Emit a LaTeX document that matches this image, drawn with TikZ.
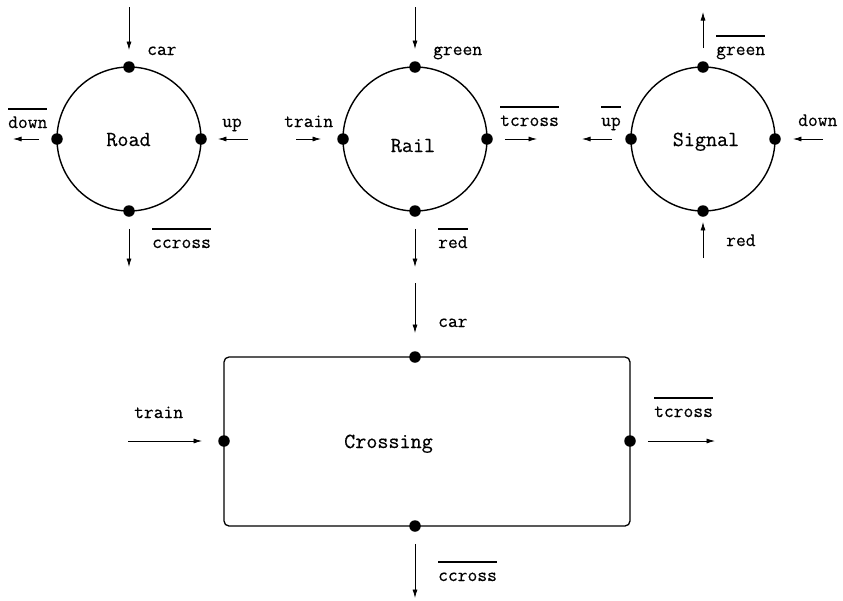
\documentclass[tikz,border=0pt]{standalone}
\usepackage{fontspec}
\setmonofont[FakeBold=0.45]{Latin Modern Mono}
\usetikzlibrary{arrows.meta}
% complemented (output) action: bar set a fixed height above the baseline
\newcommand\ovl[1]{\setbox0\hbox{#1}\rlap{\rule[18.5pt]{\wd0}{1.1pt}}\box0}
\begin{document}
\begin{tikzpicture}[
  x=1pt, y=-1pt,
  proc/.style={circle, draw, line width=1.4pt, minimum size=144pt, inner sep=0pt, outer sep=0pt},
  boxproc/.style={rectangle, draw, line width=1.3pt, rounded corners=5pt, minimum width=406pt, minimum height=169pt, inner sep=0pt, outer sep=0pt},
  port/.style={circle, fill, inner sep=0pt, minimum size=11.5pt},
  sig/.style={-{Latex[length=8.5pt,width=5pt]}, line width=0.8pt},
  lbl/.style={anchor=base west, inner sep=0pt, font=\fontsize{19}{22}\selectfont\ttfamily},
  procname/.style={anchor=base, inner sep=0pt, font=\fontsize{21.5}{25}\selectfont\ttfamily}
]
\useasboundingbox (0,0) rectangle (843,600);

% ---------- processes ----------
\node[proc] (road) at (129,139) {};
\node[proc] (rail) at (415,139) {};
\node[proc] (signal) at (703,139) {};
\node[boxproc] (cross) at (427,441.5) {};

\node[procname] (roadT) at (128.5,146) {Road};
\node[procname] (railT) at (413,152) {Rail};
\node[procname] (signalT) at (706,146) {Signal};
\node[procname] (crossT) at (388.5,448) {Crossing};

% ---------- ports ----------
\node[port] (rdN) at (road.north) {};
\node[port] (rdS) at (road.south) {};
\node[port] (rdW) at (road.west) {};
\node[port] (rdE) at (road.east) {};
\node[port] (rlN) at (rail.north) {};
\node[port] (rlS) at (rail.south) {};
\node[port] (rlW) at (rail.west) {};
\node[port] (rlE) at (rail.east) {};
\node[port] (sgN) at (signal.north) {};
\node[port] (sgS) at (signal.south) {};
\node[port] (sgW) at (signal.west) {};
\node[port] (sgE) at (signal.east) {};
\node[port] (csN) at (415,357) {};
\node[port] (csS) at (415,526) {};
\node[port] (csW) at (224,441) {};
\node[port] (csE) at (630,441) {};

% ---------- free ends of the channels ----------
\coordinate (rdNe) at (129,7);
\coordinate (rdWe) at (13,139);
\coordinate (rdEe) at (248,139);
\coordinate (rdSe) at (129,267);
\coordinate (rlNe) at (415,7);
\coordinate (rlWe) at (296,139);
\coordinate (rlEe) at (537,139);
\coordinate (rlSe) at (415,267);
\coordinate (sgNe) at (703,12);
\coordinate (sgWe) at (582,139);
\coordinate (sgEe) at (823,139);
\coordinate (sgSe) at (703,258);
\coordinate (csNe) at (415,283);
\coordinate (csWe) at (128,441);
\coordinate (csEe) at (715,441);
\coordinate (csSe) at (415,598);

% ---------- channels ----------
\draw[sig, shorten >=11pt] (rdNe) -- (rdN);
\draw[sig, shorten <=12pt] (rdW) -- (rdWe);
\draw[sig, shorten >=11pt] (rdEe) -- (rdE);
\draw[sig, shorten <=12pt] (rdS) -- (rdSe);

\draw[sig, shorten >=12pt] (rlNe) -- (rlN);
\draw[sig, shorten >=16pt] (rlWe) -- (rlW);
\draw[sig, shorten <=12pt] (rlE) -- (rlEe);
\draw[sig, shorten <=12pt] (rlS) -- (rlSe);

\draw[sig, shorten <=13pt] (sgN) -- (sgNe);
\draw[sig, shorten <=13pt] (sgW) -- (sgWe);
\draw[sig, shorten >=12pt] (sgEe) -- (sgE);
\draw[sig, shorten >=5pt] (sgSe) -- (sgS);

\draw[sig, shorten >=18pt] (csNe) -- (csN);
\draw[sig, shorten >=16pt] (csWe) -- (csW);
\draw[sig, shorten <=12pt] (csE) -- (csEe);
\draw[sig, shorten <=12pt] (csS) -- (csSe);

% ---------- action labels ----------
\node[lbl] (lRdN) at (147,55) {car};
\node[lbl] (lRdW) at (8,128) {\ovl{down}};
\node[lbl] (lRdE) at (222,127) {up};
\node[lbl] (lRdS) at (152,248) {\ovl{ccross}};

\node[lbl] (lRlN) at (433,55) {green};
\node[lbl] (lRlW) at (284,127) {train};
\node[lbl] (lRlE) at (500,126) {\ovl{tcross}};
\node[lbl] (lRlS) at (438,248) {\ovl{red}};

\node[lbl] (lSgN) at (716,55) {\ovl{green}};
\node[lbl] (lSgW) at (601,126) {\ovl{up}};
\node[lbl] (lSgE) at (798,126) {down};
\node[lbl] (lSgS) at (726,246) {red};

\node[lbl] (lCsN) at (438,327) {car};
\node[lbl] (lCsW) at (134,418) {train};
\node[lbl] (lCsE) at (654,417) {\ovl{tcross}};
\node[lbl] (lCsS) at (438,581) {\ovl{ccross}};
\end{tikzpicture}
\end{document}
